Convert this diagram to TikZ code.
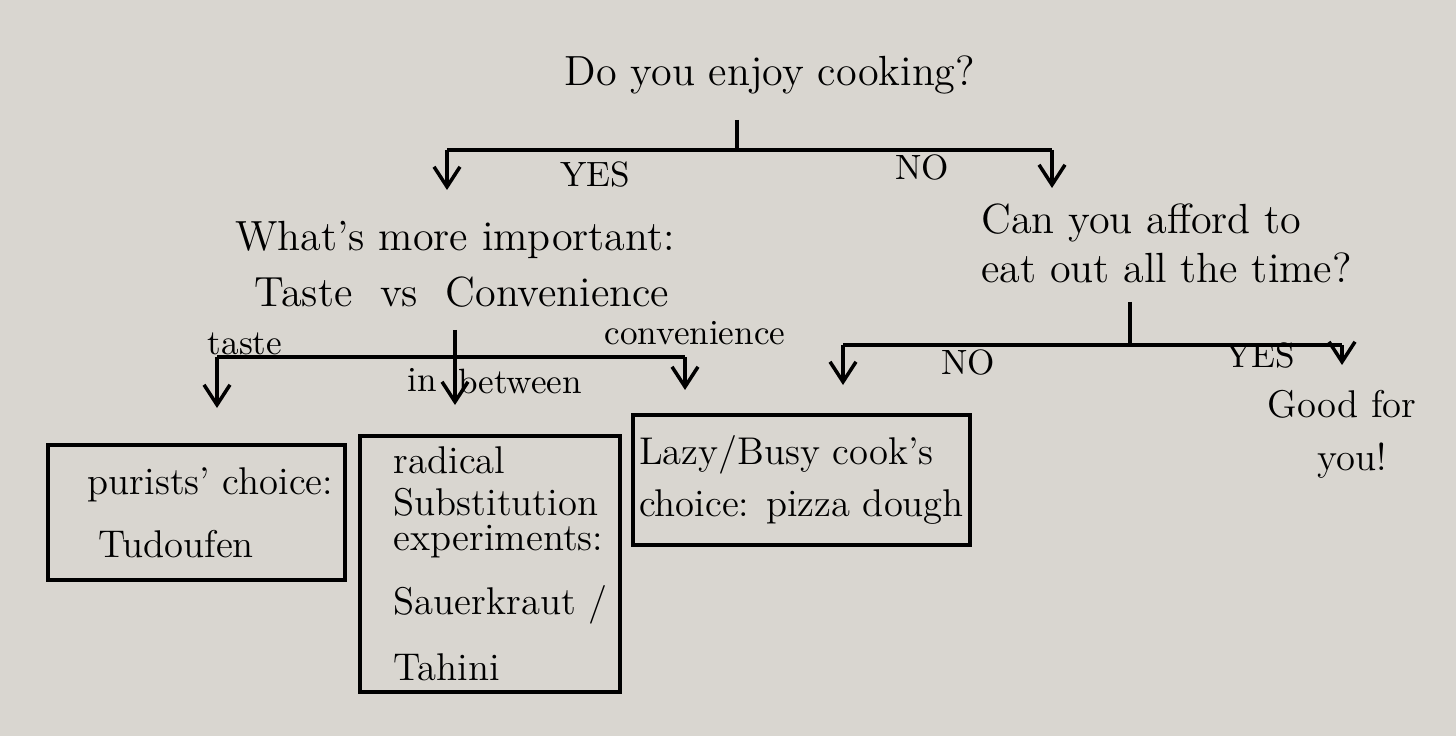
\documentclass[tikz,border=0pt]{standalone}
\usetikzlibrary{arrows.meta}
\definecolor{paper}{RGB}{217,214,208}
\begin{document}
\begin{tikzpicture}[
			every node/.style={
				font=\fontsize{12}{15}\selectfont,
				inner sep=1pt,
			},
			question/.style={
				align=center,
			},
			answer/.style={
				font=\fontsize{10}{12}\selectfont,
			},
			choicebox/.style={
				rectangle,
				draw,
				line width=1pt,
				align=left,
				font=\fontsize{11}{13}\selectfont,
			},
			every edge/.style={
				>={Straight Barb[length=2mm,width=2.6mm]},
				draw,
				line width=1pt,
			}]
		\fill[paper] (0,0) rectangle (14.56,7.36);
		\useasboundingbox (0,0) rectangle (14.56,7.36);
		% top question
		\node(cooking) at (7.70,6.61) {Do you enjoy cooking?};
		\coordinate(cookingtop) at (7.37,6.16);
		\coordinate(cookingmid) at (7.37,5.86);
		\coordinate(cookingl)   at (4.47,5.86);
		\coordinate(cookingr)   at (10.52,5.86);
		\coordinate(yesend)     at (4.47,5.46);
		\coordinate(noend)      at (10.52,5.48);
		\path (cookingtop) edge (cookingmid);
		\path (cookingl) edge (cookingr);
		\path (cookingl) edge[->] (yesend);
		\path (cookingr) edge[->] (noend);
		\node[answer](yes) at (5.95,5.61) {YES};
		\node[answer](no)  at (9.22,5.68) {NO};
		% yes branch
		\node[question](important) at (4.55,4.72) {What's more important:\\[1pt]\hspace*{4pt}Taste\ \ vs\ \ Convenience};
		\coordinate(importanttop) at (4.55,4.06);
		\coordinate(importantl)   at (2.17,3.79);
		\coordinate(importantr)   at (6.85,3.79);
		\coordinate(tasteend)     at (2.17,3.28);
		\coordinate(betweenend)   at (4.55,3.31);
		\coordinate(convend)      at (6.85,3.46);
		\path (importantl) edge (importantr);
		\path (importanttop) edge[->] (betweenend);
		\path (importantl) edge[->] (tasteend);
		\path (importantr) edge[->] (convend);
		\node[answer](taste)   at (2.45,3.92) {taste};
		\node[answer](conv)    at (6.95,4.03) {convenience};
		\node[answer](in)      at (4.22,3.56) {in};
		\node[answer](between) at (5.20,3.55) {between};
		\node[choicebox, minimum width=2.97cm, minimum height=1.35cm](purist) at (1.965,2.235)
			{\hspace*{8pt}purists' choice:\\[5pt]\hspace*{11pt}Tudoufen};
		\node[choicebox, minimum width=2.6cm, minimum height=2.56cm](radical) at (4.90,1.72)
			{\hspace*{6pt}radical\\[-1pt]\hspace*{6pt}Substitution\\[-3pt]\hspace*{6pt}experiments:\\[5pt]\hspace*{6pt}Sauerkraut /\\[6pt]\hspace*{6pt}Tahini};
		\node[choicebox, minimum width=3.37cm, minimum height=1.3cm](lazy) at (8.015,2.56)
			{Lazy/Busy cook's\\[2pt]choice: pizza dough};
		% no branch
		\node[question, align=left, anchor=west](afford) at (9.77,4.93)
			{Can you afford to\\[-1pt]eat out all the time?};
		\coordinate(affordtop) at (11.30,4.34);
		\coordinate(affordmid) at (11.30,3.91);
		\coordinate(affordl)   at (8.43,3.91);
		\coordinate(affordr)   at (13.42,3.91);
		\coordinate(affordno)  at (8.43,3.51);
		\coordinate(affordyes) at (13.42,3.71);
		\path (affordtop) edge (affordmid);
		\path (affordl) edge (affordr);
		\path (affordl) edge[->] (affordno);
		\path (affordr) edge[->] (affordyes);
		\node[answer](no2)  at (9.68,3.74) {NO};
		\node[answer](yes2) at (12.60,3.81) {YES};
		\node[question, font=\fontsize{11}{14}\selectfont](good) at (13.42,3.02) {Good for\\[1pt]\hspace{6pt}you!};
	\end{tikzpicture}
\end{document}
